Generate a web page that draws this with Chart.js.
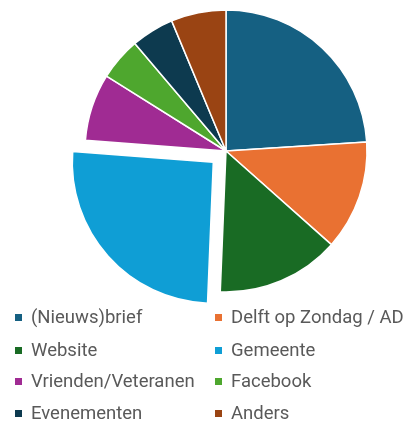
<!DOCTYPE html>
<html>
<head>
<meta charset="utf-8">
<script src="https://cdn.jsdelivr.net/npm/chart.js@4"></script>
<style>
  body { margin: 0; background: #fff; }
  #wrap { position: relative; width: 408px; height: 423px; }
  #pie-box { position: absolute; left: 0; top: 0; width: 408px; height: 305px; }
  #legend { position: absolute; left: 0; top: 0; width: 408px; height: 423px; font-family: Roboto, sans-serif; font-size: 18.5px; color: #595959; }
  .item { position: absolute; display: flex; align-items: center; white-space: nowrap; height: 24px; line-height: 24px; }
  .box { width: 7px; height: 7px; margin-right: 9px; }
</style>
</head>
<body>
<div id="wrap">
  <div id="pie-box"><canvas id="pieChart"></canvas></div>
  <div id="legend"></div>
</div>
<script>
const labels = ["(Nieuws)brief", "Delft op Zondag / AD", "Website", "Gemeente", "Vrienden/Veteranen", "Facebook", "Evenementen", "Anders"];
const values = [24.0, 12.6, 14.1, 25.6, 7.7, 4.9, 4.9, 6.3];
const colors = ["#156082", "#E97132", "#196B24", "#0F9ED5", "#A02B93", "#4EA72E", "#0D3A4F", "#9A4413"];
// Chart.js v4 moves an arc by offset/4, so 68 gives ~17px
const offsets = [0, 0, 0, 68, 0, 0, 0, 0];

// pie
const ctx = document.getElementById("pieChart").getContext("2d");
const pieChart = new Chart(ctx, {
  type: "pie",
  data: {
    labels: labels,
    datasets: [
      {
        data: values,
        backgroundColor: colors,
        borderColor: "#ffffff",
        borderWidth: 1.5,
        offset: offsets,
      },
    ],
  },
  options: {
    responsive: true,
    maintainAspectRatio: false,
    animation: false,
    radius: 141,
    layout: { padding: { left: 44, top: 0, right: 0, bottom: 3 } },
    plugins: {
      legend: { display: false },
      tooltip: { enabled: false },
    },
  },
});

// legend, two columns
const legendEl = document.getElementById("legend");
const colX = [15, 215];
const rowY = [305, 338, 369, 401];
labels.forEach((label, i) => {
  const div = document.createElement("div");
  div.className = "item";
  div.style.left = colX[i % 2] + "px";
  div.style.top = rowY[Math.floor(i / 2)] + "px";
  div.innerHTML = `<span class="box" style="background:${colors[i]}"></span><span>${label}</span>`;
  legendEl.appendChild(div);
});
</script>
</body>
</html>
